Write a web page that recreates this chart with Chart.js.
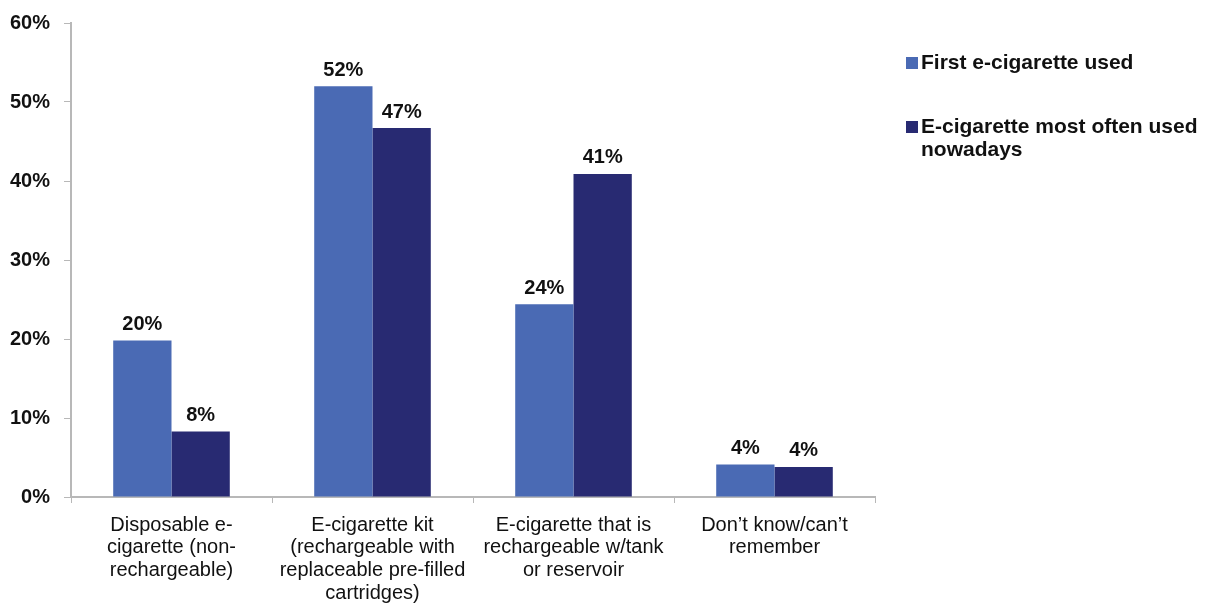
<!DOCTYPE html>
<html>
<head>
<meta charset="utf-8">
<script src="https://cdn.jsdelivr.net/npm/chart.js@4/dist/chart.umd.min.js"></script>
<style>
    html, body { margin: 0; padding: 0; background: #fff; }
    #wrap { width: 1222px; height: 603px; }
</style>
</head>
<body>
<div id="wrap"><canvas id="myChart" width="1222" height="603"></canvas></div>
<script>
const categories = [
    ['Disposable e-', 'cigarette (non-', 'rechargeable)'],
    ['E-cigarette kit', '(rechargeable with', 'replaceable pre-filled', 'cartridges)'],
    ['E-cigarette that is', 'rechargeable w/tank', 'or reservoir'],
    ['Don\u2019t know/can\u2019t', 'remember']
];
const firstUsed = [19.8, 52.0, 24.4, 4.1];
const mostOften = [8.3, 46.7, 40.9, 3.8];
const seriesNames = [['First e-cigarette used'], ['E-cigarette most often used', 'nowadays']];
const yTicks = [0, 10, 20, 30, 40, 50, 60];

const lightBlue = 'rgb(74, 106, 180)';
const navy = 'rgb(40, 42, 114)';
const axisGray = '#b8b8b8';
const fontFamily = 'Arial, "Liberation Sans", sans-serif';

// value labels above each bar
const barLabels = {
    id: 'barLabels',
    afterDatasetsDraw(chart) {
        const ctx = chart.ctx;
        ctx.save();
        ctx.font = 'bold 20px ' + fontFamily;
        ctx.fillStyle = '#111';
        ctx.textAlign = 'center';
        ctx.textBaseline = 'bottom';
        chart.data.datasets.forEach((ds, i) => {
            chart.getDatasetMeta(i).data.forEach((bar, j) => {
                ctx.fillText(Math.round(ds.data[j]) + '%', bar.x, bar.y - 6);
            });
        });
        ctx.restore();
    }
};

// legend on the right, second entry wraps onto two lines
const sideLegend = {
    id: 'sideLegend',
    afterDraw(chart) {
        const ctx = chart.ctx;
        const x = 906;
        const rows = [63, 127];
        ctx.save();
        ctx.font = 'bold 21px ' + fontFamily;
        ctx.textBaseline = 'middle';
        chart.data.datasets.forEach((ds, i) => {
            ctx.fillStyle = ds.backgroundColor;
            ctx.fillRect(x, rows[i] - 6, 12, 12);
            ctx.fillStyle = '#111';
            seriesNames[i].forEach((line, k) => {
                ctx.fillText(line, x + 15, rows[i] + k * 23);
            });
        });
        ctx.restore();
    }
};

const ctx = document.getElementById('myChart').getContext('2d');
const myChart = new Chart(ctx, {
    type: 'bar',
    data: {
        labels: categories,
        datasets: [{
            label: seriesNames[0].join(' '),
            data: firstUsed,
            backgroundColor: lightBlue,
            categoryPercentage: 0.58,
            barPercentage: 1.0
        }, {
            label: seriesNames[1].join(' '),
            data: mostOften,
            backgroundColor: navy,
            categoryPercentage: 0.58,
            barPercentage: 1.0
        }]
    },
    options: {
        responsive: false,
        animation: false,
        layout: {
            padding: { top: 0, right: 347, left: 0, bottom: 0 }
        },
        plugins: {
            legend: { display: false },
            tooltip: { enabled: false }
        },
        scales: {
            x: {
                offset: true,
                grid: {
                    offset: true,
                    drawOnChartArea: false,
                    color: axisGray,
                    tickLength: 6
                },
                border: { color: axisGray, width: 2 },
                ticks: {
                    color: '#111',
                    maxRotation: 0,
                    autoSkip: false,
                    padding: 11,
                    font: { family: fontFamily, size: 20, lineHeight: 1.13 }
                },
                afterFit: (scale) => { scale.height = 106; }
            },
            y: {
                min: 0,
                max: 60,
                afterBuildTicks: (scale) => {
                    scale.ticks = yTicks.map(v => ({ value: v }));
                },
                grid: {
                    drawOnChartArea: false,
                    color: axisGray,
                    tickLength: 7
                },
                border: { color: axisGray, width: 2 },
                ticks: {
                    color: '#111',
                    padding: 14,
                    callback: (v) => v + '%',
                    font: { family: fontFamily, size: 20, weight: 'bold', lineHeight: 0.9 }
                },
                afterFit: (scale) => { scale.width = 71; }
            }
        }
    },
    plugins: [barLabels, sideLegend]
});
</script>
</body>
</html>
